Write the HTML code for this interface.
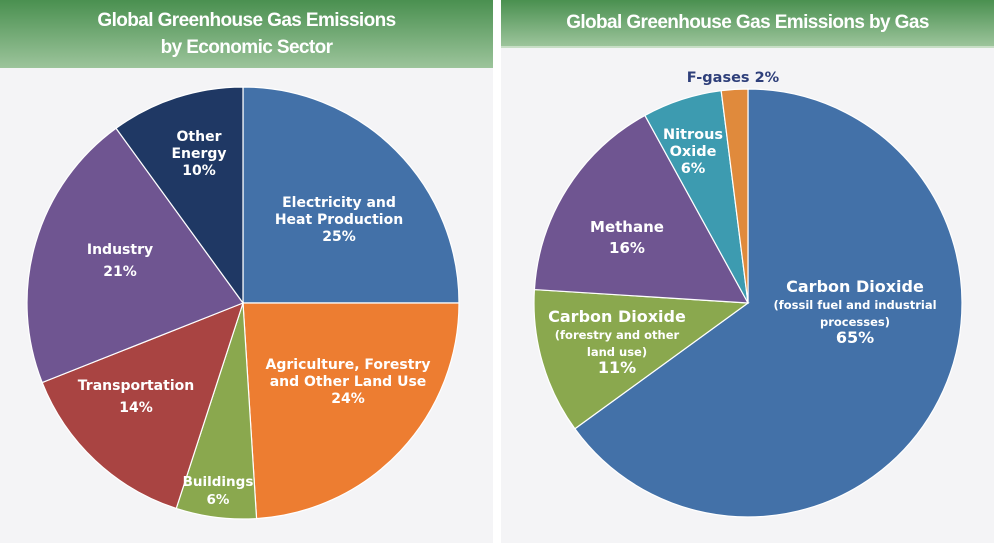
<!DOCTYPE html>
<html><head><meta charset="utf-8">
<style>
body{margin:0;width:994px;height:543px;background:#fff;overflow:hidden;font-family:"Liberation Sans",sans-serif;}
.panel{position:absolute;top:0;height:543px;background:#f4f4f6;}
.hdr{position:absolute;left:0;top:0;width:100%;background:linear-gradient(#4a9050,#9cc49b);color:#fff;font-weight:bold;text-align:center;font-size:19px;letter-spacing:-0.6px;}
svg{position:absolute;left:0;top:0;}
svg text{font-family:"DejaVu Sans",sans-serif;font-weight:bold;fill:#fff;text-anchor:middle;}
svg text.dark{fill:#2e3f7a;}
</style></head><body>
<div class="panel" style="left:0;width:493px;">
 <div class="hdr" style="height:68px;line-height:27px;padding-top:7px;box-sizing:border-box;">Global Greenhouse Gas Emissions<br>by Economic Sector</div>
</div>
<div class="panel" style="left:501px;width:493px;">
 <div class="hdr" style="height:48px;line-height:46px;border-bottom:2px solid #c8dec6;box-sizing:border-box;">Global Greenhouse Gas Emissions by Gas</div>
</div>
<svg id="s" width="994" height="543"></svg>
<script>
const sectorCats=["Electricity and Heat Production","Agriculture, Forestry and Other Land Use","Buildings","Transportation","Industry","Other Energy"];
const sectorVals=[25,24,6,14,21,10];
const gasCats=["Carbon Dioxide (fossil fuel and industrial processes)","Carbon Dioxide (forestry and other land use)","Methane","Nitrous Oxide","F-gases"];
const gasVals=[65,11,16,6,2];
const sectorColors=["#4371a8","#ed7d31","#8aa84e","#a94442","#6f5591","#1f3864"];
const gasColors=["#4371a8","#8aa84e","#6f5591","#3d9bb0","#e08a3c"];
const NS="http://www.w3.org/2000/svg";
const svg=document.getElementById('s');
function pie(vals,colors,cx,cy,r,prefix){
  const tot=vals.reduce((a,b)=>a+b,0);let a0=0;
  vals.forEach((v,i)=>{
    const a1=a0+v/tot*2*Math.PI;
    const x0=cx+r*Math.sin(a0),y0=cy-r*Math.cos(a0),x1=cx+r*Math.sin(a1),y1=cy-r*Math.cos(a1);
    const p=document.createElementNS(NS,'path');
    p.setAttribute('d',`M${cx},${cy}L${x0},${y0}A${r},${r} 0 ${a1-a0>Math.PI?1:0} 1 ${x1},${y1}Z`);
    p.setAttribute('fill',colors[i]);p.setAttribute('stroke','#fff');p.setAttribute('stroke-width','1.2');
    
    
    svg.appendChild(p);a0=a1;
  });
}
pie(sectorVals,sectorColors,243,303,216,'sector');
pie(gasVals,gasColors,748,303,214,'gas');
function lbl(lines,x,y,size,lh,name,cls){
  const t=document.createElementNS(NS,'text');
  
  
  lines.forEach((l,i)=>{const s=document.createElementNS(NS,'tspan');s.setAttribute('x',x);s.setAttribute('y',y+i*lh);
    if(Array.isArray(l)){s.textContent=l[0];s.setAttribute('font-size',l[1]);}else s.textContent=l;t.appendChild(s);});
  t.setAttribute('font-size',size);if(cls)t.setAttribute('class',cls);svg.appendChild(t);
}
lbl(["Electricity and","Heat Production",sectorVals[0]+"%"],339,207,14,17,'label-electricity');
lbl(["Agriculture, Forestry","and Other Land Use",sectorVals[1]+"%"],348,369,14,17,'label-agriculture');
lbl(["Buildings",sectorVals[2]+"%"],218,486,13.5,18,'label-buildings');
lbl(["Transportation",sectorVals[3]+"%"],136,390,14,22,'label-transportation');
lbl(["Industry",sectorVals[4]+"%"],120,254,14,22,'label-industry');
lbl(["Other","Energy",sectorVals[5]+"%"],199,141,14,17,'label-other-energy');
lbl(["Carbon Dioxide",["(fossil fuel and industrial",11.5],["processes)",11.5],gasVals[0]+"%"],855,292,16,17,'label-co2-fossil');
lbl(["Carbon Dioxide",["(forestry and other",11.5],["land use)",11.5],gasVals[1]+"%"],617,322,16,17,'label-co2-forestry');
lbl(["Methane",gasVals[2]+"%"],627,232,15,21,'label-methane');
lbl(["Nitrous","Oxide",gasVals[3]+"%"],693,139,14.5,17,'label-nitrous-oxide');
lbl(["F-gases "+gasVals[4]+"%"],733,82,14.5,17,'label-fgases','dark');
</script>
</body></html>
